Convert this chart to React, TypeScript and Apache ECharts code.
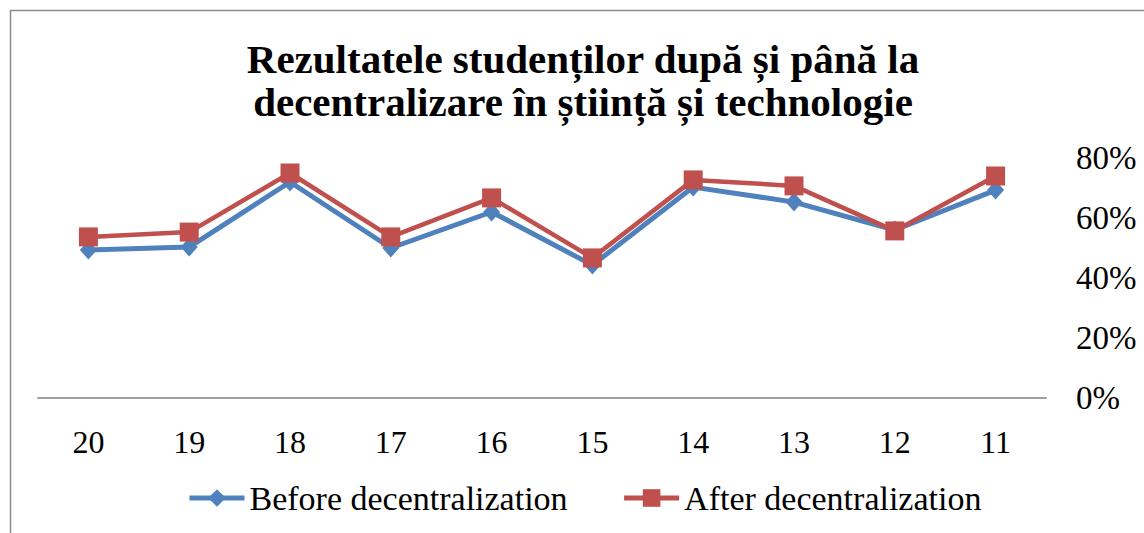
import React, { useEffect, useRef } from "react";
import * as echarts from "echarts";

const titleLines = ["Rezultatele studenților după și până la", "decentralizare în știință și technologie"];
const categories = ["20", "19", "18", "17", "16", "15", "14", "13", "12", "11"];
const beforeName = "Before decentralization";
const afterName = "After decentralization";
const beforeValues = [49.3, 50.3, 72, 50, 62, 44.3, 70.3, 65.3, 56, 69.3];
const afterValues = [53.7, 55.3, 75, 53.7, 66.7, 46.7, 72.7, 70.7, 55.7, 74];
const yTicks = { min: 0, max: 80, interval: 20 };

const FONT = '"Liberation Serif", "DejaVu Serif", serif';

export default function App() {
  const ref = useRef<HTMLDivElement>(null);
  useEffect(() => {
    if (!ref.current) return;
    const chart = echarts.init(ref.current, undefined, { renderer: "svg" });
    chart.setOption({
      animation: false,
      backgroundColor: "#ffffff",
      title: {
        text: titleLines.join("\n"),
        left: 583,
        top: 37,
        textAlign: "center",
        padding: 0,
        textStyle: {
          fontFamily: FONT,
          fontWeight: "bold",
          fontSize: 41,
          lineHeight: 43,
          color: "#000000",
        },
      },
      graphic: [
        {
          type: "rect",
          shape: { x: 10.5, y: 10.5, width: 1400, height: 800 },
          style: { fill: "none", stroke: "#8c8c8c", lineWidth: 1.5 },
          silent: true,
          z: -1,
        },
      ],
      legend: {
        left: 182,
        top: 476,
        itemWidth: 55,
        itemHeight: 22,
        itemGap: 54,
        lineStyle: { width: 5 },
        textStyle: { fontFamily: FONT, fontSize: 34, color: "#000000" },
        data: [beforeName, afterName],
      },
      grid: { left: 38, right: 98, top: 158, bottom: 135, containLabel: false },
      xAxis: {
        type: "category",
        data: categories,
        boundaryGap: true,
        axisLine: { show: true, lineStyle: { color: "#a0a0a0", width: 2 } },
        axisTick: { show: false },
        axisLabel: { fontFamily: FONT, fontSize: 32, color: "#000000", margin: 28 },
        splitLine: { show: false },
      },
      yAxis: {
        type: "value",
        position: "right",
        min: yTicks.min,
        max: yTicks.max,
        interval: yTicks.interval,
        axisLine: { show: false },
        axisTick: { show: false },
        splitLine: { show: false },
        axisLabel: {
          fontFamily: FONT,
          fontSize: 33,
          color: "#000000",
          margin: 30,
          formatter: "{value}%",
        },
      },
      series: [
        {
          name: beforeName,
          type: "line",
          data: beforeValues,
          symbol: "diamond",
          symbolSize: [17, 19],
          lineStyle: { color: "#4F81BD", width: 5 },
          itemStyle: { color: "#4F81BD" },
          z: 2,
        },
        {
          name: afterName,
          type: "line",
          data: afterValues,
          symbol: "rect",
          symbolSize: 19,
          lineStyle: { color: "#C0504D", width: 4.5 },
          itemStyle: { color: "#C0504D" },
          z: 3,
        },
      ],
    });
    return () => chart.dispose();
  }, []);
  return (
    <div
      ref={ref}
      style={{ position: "fixed", left: 0, top: 0, width: 1144, height: 533 }}
    />
  );
}
